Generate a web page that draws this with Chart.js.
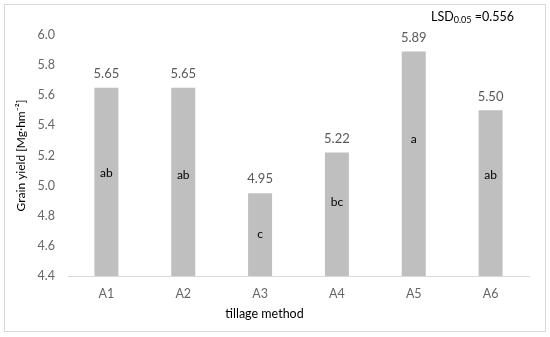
<!DOCTYPE html>
<html>
<head>
<meta charset="utf-8">
<script src="https://cdn.jsdelivr.net/npm/chart.js@4/dist/chart.umd.min.js"></script>
<style>
  html, body { margin: 0; padding: 0; background: #fff; }
  #wrap { width: 550px; height: 337px; position: relative; }
</style>
</head>
<body>
<div id="wrap"><canvas id="yieldChart"></canvas></div>
<script>
// tillage methods and mean grain yield
const methods = ["A1", "A2", "A3", "A4", "A5", "A6"];
const yields = [5.65, 5.65, 4.95, 5.22, 5.89, 5.50];
// significance letters and the height (in Mg/hm2 units) where each sits
const letters = ["ab", "ab", "c", "bc", "a", "ab"];
const letterAt = [5.08, 5.07, 4.68, 4.89, 5.31, 5.07];
const yTicks = [4.4, 4.6, 4.8, 5.0, 5.2, 5.4, 5.6, 5.8, 6.0];

const FONT = "Lato, Carlito, 'Open Sans', sans-serif";

// frame around the whole picture
const framePlugin = {
  id: "frame",
  beforeDraw(chart) {
    const ctx = chart.ctx;
    ctx.save();
    ctx.fillStyle = "#fff";
    ctx.fillRect(0, 0, chart.width, chart.height);
    ctx.strokeStyle = "#d9d9d9";
    ctx.lineWidth = 1;
    ctx.strokeRect(4.5, 4.5, chart.width - 9, chart.height - 10);
    ctx.restore();
  },
};

// value above bars, letters inside, LSD note top right
const labelPlugin = {
  id: "barLabels",
  afterDatasetsDraw(chart) {
    const ctx = chart.ctx;
    const yScale = chart.scales.y;
    const meta = chart.getDatasetMeta(0);
    ctx.save();
    ctx.textAlign = "center";
    ctx.textBaseline = "middle";
    meta.data.forEach((bar, i) => {
      ctx.fillStyle = "#595959";
      ctx.font = "13px " + FONT;
      ctx.fillText(yields[i].toFixed(2), bar.x, bar.y - 14);

      ctx.fillStyle = "#000";
      ctx.font = "12px " + FONT;
      ctx.fillText(letters[i], bar.x, yScale.getPixelForValue(letterAt[i]));
    });

    // LSD0.05 =0.556
    ctx.textAlign = "left";
    ctx.fillStyle = "#000";
    let x = 431;
    ctx.font = "12.5px " + FONT;
    ctx.fillText("LSD", x, 17);
    x += ctx.measureText("LSD").width;
    ctx.font = "9px " + FONT;
    ctx.fillText("0.05", x, 20);
    x += ctx.measureText("0.05").width;
    ctx.font = "12.5px " + FONT;
    ctx.fillText(" =0.556", x, 17);
    ctx.restore();
  },
};

const ctx = document.getElementById("yieldChart").getContext("2d");

new Chart(ctx, {
  type: "bar",
  data: {
    labels: methods,
    datasets: [
      {
        label: "Grain yield",
        data: yields,
        backgroundColor: "#bfbfbf",
        borderWidth: 0,
        barPercentage: 0.3125,
        categoryPercentage: 1.0,
      },
    ],
  },
  options: {
    responsive: true,
    maintainAspectRatio: false,
    animation: false,
    layout: {
      padding: { top: 35, right: 21, left: 0, bottom: 0 },
    },
    plugins: {
      legend: { display: false },
      tooltip: { enabled: false },
      title: {
        display: true,
        position: "bottom",
        text: "tillage method",
        color: "#000",
        font: { family: FONT, size: 12.5, weight: "normal" },
        padding: { top: 0, bottom: 16 },
      },
    },
    scales: {
      x: {
        grid: { display: false, drawTicks: false },
        border: { display: true, color: "#d9d9d9", width: 1 },
        ticks: {
          color: "#666",
          font: { family: FONT, size: 12.5 },
          padding: 10,
        },
        afterFit(scale) {
          scale.height = 30;
        },
      },
      y: {
        min: 4.4,
        max: 6.0,
        afterBuildTicks(scale) {
          scale.ticks = yTicks.map((v) => ({ value: v }));
        },
        grid: { display: false, drawTicks: false },
        border: { display: false },
        ticks: {
          color: "#666",
          font: { family: FONT, size: 12.5 },
          padding: 13,
          callback: (v) => Number(v).toFixed(1),
        },
        title: {
          display: true,
          text: "Grain yield [Mg·hm⁻²]",
          color: "#000",
          font: { family: FONT, size: 12 },
          padding: { top: 14, bottom: 0 },
        },
        afterFit(scale) {
          scale.width = 68;
        },
      },
    },
  },
  plugins: [framePlugin, labelPlugin],
});
</script>
</body>
</html>
